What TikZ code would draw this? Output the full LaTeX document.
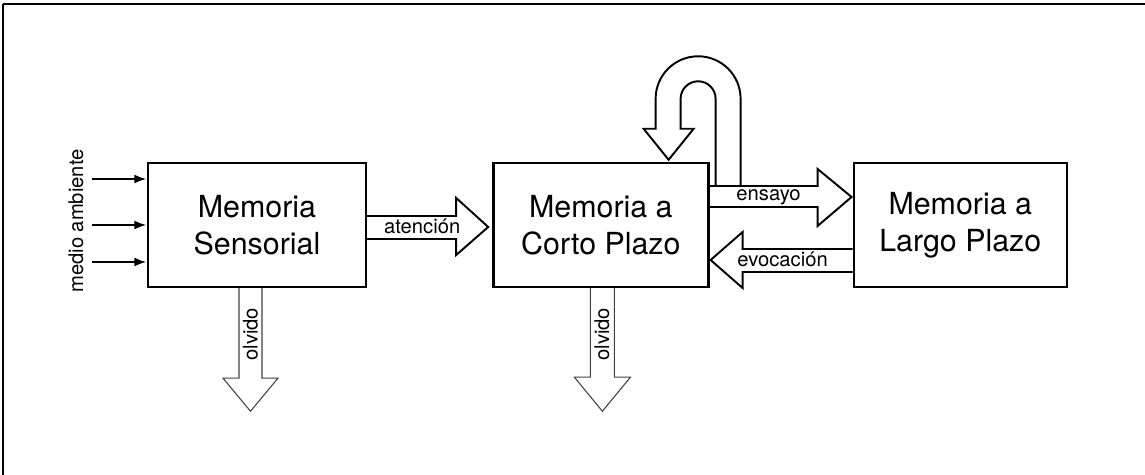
\documentclass[tikz,border=0pt]{standalone}
\usepackage{fontspec}
\setmainfont{TeX Gyre Heros}
\usetikzlibrary{positioning,calc,arrows.meta}

\begin{document}
\begin{tikzpicture}[x=0.02cm,y=-0.02cm,
  memory/.style={draw,line width=1.4pt,minimum height=2.48cm,align=center,inner sep=0pt,
    font=\fontsize{17.3}{21}\selectfont},
  hollow/.style={draw,line width=1.1pt,line join=miter},
  faded/.style={draw=black!75,line width=0.6pt},
  lbl/.style={font=\fontsize{11.5}{13}\selectfont,inner sep=0pt}]
  \useasboundingbox (0,0) rectangle (1145,475);
  % frame
  \draw[line width=1.1pt] (3,475) -- (3,4);
  \draw[line width=1.6pt] (3,4) -- (1145,4);
  % memory stores
  \node(sens)[memory,minimum width=4.36cm] at (257,225) {Memoria\\Sensorial};
  \node(corto)[memory,minimum width=4.30cm,right=2.5cm of sens] {Memoria a\\Corto Plazo};
  \node(largo)[memory,minimum width=4.26cm,right=2.86cm of corto] {Memoria a\\Largo Plazo};
  % inputs
  \foreach \dy/\nm in {-46/a,0/b,37/c} {
    \coordinate(in\nm) at ($(sens.west)+(-55,\dy)$);
    \draw[line width=1.3pt,-{Latex[length=7pt,width=5pt]}] (in\nm) -- ($(sens.west)+(0,\dy)$);
  }
  \node(medio)[lbl,rotate=90] at ($(sens.west)+(-71,-4)$) {medio ambiente};
  % atencion
  \draw[hollow] ($(sens.east)+(0,-9)$) -- ++(89,0) -- ++(0,-18) -- ($(corto.west)+(-4,2)$)
    -- ($(sens.east)+(89,30)$) -- ++(0,-16) -- ($(sens.east)+(0,14)$);
  \node(aten)[lbl,anchor=base] at ($(sens.east)+(55,9)$) {atención};
  % ensayo
  \draw[hollow] ($(corto.east)+(0,-39)$) -- ++(108,0) -- ++(0,-17) -- ($(largo.west)+(-1,-28)$)
    -- ($(corto.east)+(108,1)$) -- ++(0,-19) -- ($(corto.east)+(0,-18)$);
  \node(ensayo)[lbl,anchor=base] at ($(corto.east)+(59,-24)$) {ensayo};
  % evocacion
  \draw[hollow] ($(largo.west)+(0,24)$) -- ++(-110,0) -- ++(0,-17) -- ($(corto.east)+(1,35)$)
    -- ($(largo.west)+(-110,63)$) -- ++(0,-16) -- ($(largo.west)+(0,47)$);
  \node(evoc)[lbl,anchor=base] at ($(largo.west)+(-70,42)$) {evocación};
  % repaso (loop)
  \draw[hollow] ($(corto.north east)+(31,23)$) -- ($(corto.north east)+(31,-63)$)
    arc[start angle=0,end angle=180,radius=0.85cm] -- ++(0,30) -- ++(-12,0)
    -- ++(25,31) -- ++(25,-31) -- ++(-13,0) -- ++(0,-30)
    arc[start angle=180,end angle=0,radius=0.35cm] -- ($(corto.north east)+(6,23)$);
  % olvido
  \draw[faded] ($(sens.south)+(-18,0)$) -- ++(0,90) -- ++(-16,0) -- ++(27.5,33)
    -- ++(27.5,-33) -- ++(-16,0) -- ++(0,-90);
  \node(olv1)[lbl,rotate=90] at ($(sens.south)+(-6.5,46)$) {olvido};
  \draw[faded] ($(corto.south)+(-10.5,0)$) -- ++(0,89) -- ++(-16,0) -- ++(28,34)
    -- ++(28,-34) -- ++(-16,0) -- ++(0,-89);
  \node(olv2)[lbl,rotate=90] at ($(corto.south)+(1,46)$) {olvido};
\end{tikzpicture}
\end{document}
